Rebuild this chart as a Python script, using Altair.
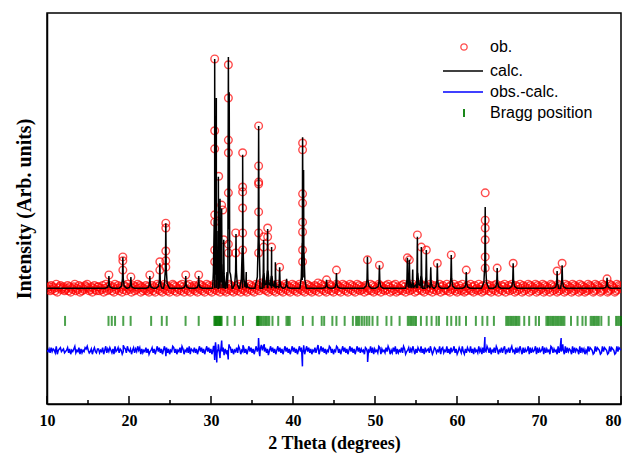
import altair as alt
import numpy as np
import pandas as pd

# ---------------- data ----------------
# calculated profile: peak positions (2θ) and peak-top intensities
peak_pos = [17.55, 19.25, 20.23, 22.54, 23.76, 24.49, 26.92, 28.50,
            30.45, 30.65, 30.90, 31.10, 31.30, 31.55, 32.12, 32.22, 33.05, 33.86,
            34.30, 35.81, 36.42, 36.91, 37.39, 37.85, 38.37, 39.22, 41.17, 41.29,
            44.09, 45.30, 49.08, 50.54, 53.95, 54.19, 54.60, 55.17, 55.65, 56.26,
            56.80, 57.60, 59.30, 61.13, 63.44, 64.90, 66.85, 72.21, 72.82, 78.30]
peak_top = [620, 1000, 600, 620, 880, 1700, 620, 620,
            5060, 4260, 2650, 2200, 2000, 1360, 5100, 4380, 1480, 3100,
            700, 3690, 1360, 1580, 1210, 900, 800, 560, 3460, 2790,
            540, 680, 1010, 840, 990, 950, 750, 1420, 1210, 1150,
            800, 880, 1050, 700, 2030, 780, 880, 720, 840, 580]
BASE = 370

# observed points along the background: scatter codes (0..8, 4 = on the background)
obs_scatter = (
    "43526354271456345234625143572436152436574235146325524361472536"
    "42517346254136527435146253746152436251346251473625147362514376"
    "25143627514362715436251473625147362514736254173625143762514362"
    "75143625147362514736258473625147362514736251473625147362514736"
    "25147362514362581473625143762514376251473625147362514736253416"
    "52437261534276153426375142637152436275134625374152643725163452"
    "74136524371562437251634725136427315264372516342735162437526143"
    "62751436257143625734162537416253471625347162534716253417625341"
    "72635417263541726354172635142736541273654127365412736541273654"
)
# observed points on the peaks (2θ, intensity)
obs_peak_x = [30.45] * 7 + [30.94, 31.30, 31.43, 31.55] + [32.12] * 7 + [33.01] * 2 + [33.86] * 6 \
    + [35.81] * 7 + [36.42] * 2 + [36.91] * 2 + [37.39, 38.37] + [41.17] * 8 + [24.49] * 5 \
    + [19.25] * 3 + [23.76] * 2 + [63.44] * 6 \
    + [17.55, 20.23, 22.54, 26.92, 28.50, 44.09, 45.30, 49.08, 50.54, 53.95, 54.19, 55.17,
       55.65, 56.26, 57.60, 59.30, 61.13, 64.90, 66.85, 72.21, 72.82, 78.30]
obs_peak_y = [5060, 3590, 3220, 1870, 1720, 1150, 910] + [2660, 2070, 1970, 1360] \
    + [4940, 4260, 3400, 3140, 2320, 1270, 1090] + [1500, 1090] \
    + [3140, 2440, 2340, 2010, 1500, 1150] + [3690, 2870, 2540, 2500, 1930, 1500, 1090] \
    + [1420, 1210] + [1600, 1420] + [1210, 800] \
    + [3340, 3200, 2300, 2110, 1720, 1520, 1150, 910] + [1700, 1600, 1130, 930, 800] \
    + [1010, 930, 740] + [910, 740] + [2320, 1760, 1600, 1360, 1010, 780] \
    + [640, 600, 640, 640, 640, 540, 740, 950, 840, 990, 950, 1460,
       1210, 1150, 880, 1050, 740, 780, 880, 720, 880, 560]

# largest residuals (2θ, obs - calc)
diff_spike_x = [19.3, 24.5, 30.3, 30.45, 30.55, 30.7, 30.9, 31.1, 31.3, 31.6, 32.1, 32.2,
                33.9, 35.8, 35.95, 36.5, 37.0, 41.15, 41.3, 49.1, 63.4, 72.7, 72.9]
diff_spike_y = [100, -120, 80, -200, 160, -250, 120, -160, 200, -100, -190, 120,
                100, 250, -120, 120, -100, -330, 100, -240, 270, 250, 120]

# Bragg reflections (2θ)
bragg_pos = [12.2, 17.5, 17.9, 18.3, 19.3, 20.2, 22.7, 24.0, 24.6, 26.9, 28.5,
             30.4, 30.5, 30.6, 30.7, 30.8, 30.9, 31.0, 31.1, 31.2, 31.3, 32.0, 32.9, 33.9,
             35.6, 35.7, 35.8, 35.9, 36.1, 36.3, 36.5, 36.7, 36.9, 37.1, 37.5, 38.2,
             39.2, 39.4, 39.6, 41.2, 42.4, 43.5, 43.8, 44.8, 45.3, 46.3, 47.3,
             47.7, 47.9, 48.1, 48.4, 48.7, 49.0, 49.3, 49.7, 50.3, 51.4, 52.0, 53.0,
             54.0, 54.2, 54.4, 54.6, 54.8, 55.0, 55.6, 56.3, 56.9, 57.5, 57.8, 58.8,
             59.3, 59.9, 60.3, 61.1, 62.3, 63.1, 63.7, 64.5,
             66.0, 66.2, 66.4, 66.6, 66.8, 67.0, 67.2, 67.4, 67.6, 68.2, 68.8, 69.6, 70.0,
             70.9, 71.1, 71.3, 71.5, 71.7, 71.9, 72.1, 72.3, 72.5, 72.7, 72.9, 73.1,
             73.9, 74.7, 75.3, 75.7, 76.3, 76.5, 76.7, 76.9, 77.1, 77.3, 77.6,
             78.5, 79.4, 79.6, 79.8, 80.0]

x_major = [10, 20, 30, 40, 50, 60, 70, 80]
x_minor = [15, 25, 35, 45, 55, 65, 75]
legend_labels = ["ob.", "calc.", "obs.-calc.", "Bragg position"]

DIFF_OFFSET = -900
BRAGG_Y = -300

# ---------------- tables ----------------
cx, cy = [10.0, 80.0], [BASE, BASE]
for p, t in zip(peak_pos, peak_top):
    h = t - BASE
    cx += [p - 0.45, p - 0.16, p - 0.05, p, p + 0.05, p + 0.16, p + 0.45]
    cy += [BASE, BASE + 0.07 * h, BASE + 0.3 * h, t, BASE + 0.3 * h, BASE + 0.07 * h, BASE]
calc_df = pd.DataFrame({"x": cx, "y": cy}).sort_values("x")

codes = np.array([int(c) for c in obs_scatter])
bx = np.linspace(10, 80, len(codes))
by = BASE + (codes - 4) * 27
obs_df = pd.DataFrame({"x": np.concatenate([bx, obs_peak_x]),
                       "y": np.concatenate([by, obs_peak_y])})

diff_df = pd.DataFrame({"x": np.concatenate([bx, diff_spike_x]),
                        "y": np.concatenate([DIFF_OFFSET + (by - BASE),
                                             DIFF_OFFSET + np.array(diff_spike_y)])}).sort_values("x")
bragg_df = pd.DataFrame({"x": bragg_pos})

# ---------------- chart ----------------
SERIF = "Liberation Serif"
SANS = "Liberation Sans"
W, H = 574, 391

xs = alt.Scale(domain=[10, 80], nice=False)
ys = alt.Scale(domain=[-2000, 6000], nice=False, zero=False)

X = alt.X("x:Q", scale=xs, axis=alt.Axis(
    values=x_major, ticks=False, grid=False, labelFont=SERIF, labelFontWeight="bold",
    labelFontSize=16, labelColor="black", labelPadding=8, labelFlush=False,
    labelAlign={"condition": {"test": "datum.value >= 80", "value": "right"}, "value": "center"},
    title="2 Theta (degrees)", titleFont=SERIF, titleFontWeight="bold", titleFontSize=18,
    titleColor="black", titlePadding=6, domainColor="black", domainWidth=1.5))
Y = alt.Y("y:Q", scale=ys, axis=alt.Axis(
    labels=False, ticks=False, grid=False, title="Intensity (Arb. units)", titleFont=SERIF,
    titleFontWeight="bold", titleFontSize=20, titleColor="black", titlePadding=13,
    domainColor="black", domainWidth=1.5))

obs = alt.Chart(obs_df).mark_point(shape="circle", filled=False, size=58, color="#ff0000",
                                   strokeWidth=1.4, clip=True).encode(x=X, y=Y)
calc = alt.Chart(calc_df).mark_line(color="black", strokeWidth=1.5, clip=True).encode(
    x="x:Q", y="y:Q", order="x:Q")
diff = alt.Chart(diff_df).mark_line(color="#0000ff", strokeWidth=1.5, clip=True).encode(
    x="x:Q", y="y:Q", order="x:Q")
bragg = alt.Chart(bragg_df).mark_tick(orient="vertical", size=10, thickness=2,
                                      color="#007a00").encode(x="x:Q", y=alt.datum(BRAGG_Y))

major = alt.Chart(pd.DataFrame({"x": x_major})).mark_rule(color="black", strokeWidth=1.5).encode(
    x="x:Q", y=alt.value(H), y2=alt.value(H - 8))
minor = alt.Chart(pd.DataFrame({"x": x_minor})).mark_rule(color="black", strokeWidth=1.5).encode(
    x="x:Q", y=alt.value(H), y2=alt.value(H - 4))

one = pd.DataFrame({"a": [0]})
row_y = [34, 58, 79, 100]
TEXT_X = 443
leg = [
    alt.Chart(one).mark_point(shape="circle", filled=False, size=40, color="#ff0000",
                              strokeWidth=1.3).encode(x=alt.value(417), y=alt.value(row_y[0])),
    alt.Chart(one).mark_rule(color="black", strokeWidth=1.5).encode(
        x=alt.value(396), x2=alt.value(436), y=alt.value(row_y[1])),
    alt.Chart(one).mark_rule(color="#0000ff", strokeWidth=1.5).encode(
        x=alt.value(396), x2=alt.value(436), y=alt.value(row_y[2])),
    alt.Chart(one).mark_rule(color="#007a00", strokeWidth=1.8).encode(
        x=alt.value(417), y=alt.value(row_y[3] - 4), y2=alt.value(row_y[3] + 4)),
]
for lab, yy in zip(legend_labels, row_y):
    leg.append(alt.Chart(one).mark_text(text=lab, align="left", baseline="middle", font=SANS,
                                        fontSize=16, color="black").encode(
        x=alt.value(TEXT_X), y=alt.value(yy)))

chart = alt.layer(obs, calc, diff, bragg, major, minor, *leg).properties(
    width=W, height=H,
    autosize=alt.AutoSizeParams(type="none"),
    padding={"left": 39, "top": 5, "right": 1, "bottom": 51},
).configure_view(stroke="black", strokeWidth=1.5)

chart.save("out.html", embed_options={"renderer": "svg", "actions": False})
